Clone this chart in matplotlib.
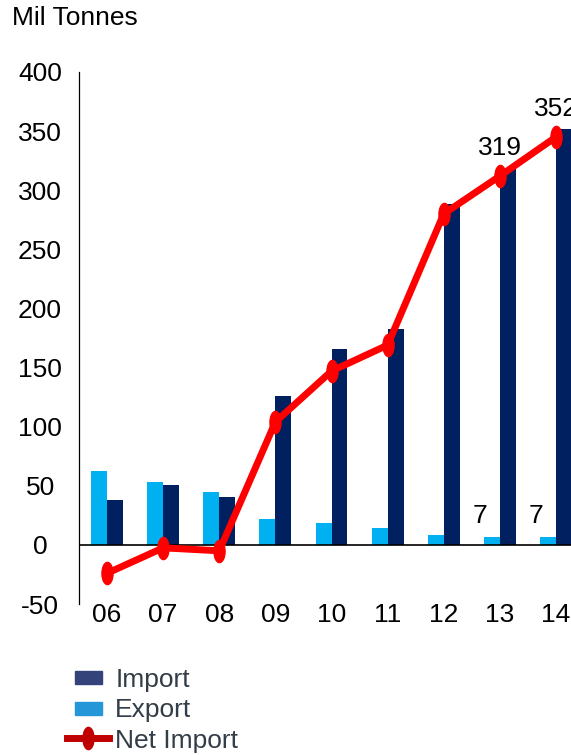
import matplotlib
matplotlib.use('Agg')
import matplotlib.pyplot as plt
from matplotlib.patches import Rectangle
from matplotlib.lines import Line2D
from matplotlib.path import Path
from matplotlib.transforms import Affine2D
from matplotlib.legend_handler import HandlerPatch
import numpy as np

plt.rcParams['font.family'] = ['Liberation Sans', 'DejaVu Sans']

# data (thousand tonnes)
years = ['06', '07', '08', '09', '10', '11', '12', '13', '14']
export = [62.8, 53.4, 45.1, 22, 18.6, 14.5, 8.7, 7, 7]
imports = [38, 50.7, 40.5, 126, 166, 183, 288, 319, 352]
net_import = [-24, -2.5, -5, 104, 147, 169, 280, 312, 345]

# which values carry a data label
export_labels = {7: '7', 8: '7'}
import_labels = {7: '319', 8: '352'}

C_IMPORT = '#002060'
C_EXPORT = '#00b0f0'
C_NET = '#ff0000'

W, H = 571, 755
fig = plt.figure(figsize=(W / 100, H / 100), dpi=100)
# axes: left spine at x=79px, y from 72px (400) to 604px (-50)
ax = fig.add_axes([79 / W, (H - 604) / H, 505 / W, 532 / H])

x = np.arange(len(years))
bw = 0.285
ax.bar(x - bw / 2, export, bw, color=C_EXPORT, zorder=2)
ax.bar(x + bw / 2, imports, bw, color=C_IMPORT, zorder=2)

ellipse = Path.unit_circle().transformed(Affine2D().scale(0.5, 1.0))
ax.plot(x, net_import, color=C_NET, lw=5, marker=ellipse, ms=16,
        mec=C_NET, mew=1, zorder=4, clip_on=False)

ax.axhline(0, color='black', lw=1.2, zorder=3)

for i, t in export_labels.items():
    ax.annotate(t, (i - 0.36, export[i]), xytext=(0, 15), textcoords='offset points',
                ha='center', va='center', fontsize=19, color='black')
for i, t in import_labels.items():
    ax.annotate(t, (i, imports[i]), xytext=(0, 14.5), textcoords='offset points',
                ha='center', va='center', fontsize=19, color='black',
                annotation_clip=False)

ax.set_xlim(-0.5, 8.5)
ax.set_ylim(-50, 400)
ax.set_yticks(range(-50, 401, 50))
ax.set_yticklabels([str(v) for v in range(-50, 401, 50)], ha='center')
ax.set_xticks(x)
ax.set_xticklabels(years)
ax.tick_params(axis='y', length=0, pad=28, labelsize=19)
ax.tick_params(axis='x', length=0, pad=-1, labelsize=19)

for s in ['top', 'right', 'bottom']:
    ax.spines[s].set_visible(False)
ax.spines['left'].set_linewidth(0.9)

fig.text(12 / W, 1 - 18 / H, 'Mil Tonnes', fontsize=19, ha='left', va='center')


def small_rect(legend, orig_handle, xdescent, ydescent, width, height, fontsize):
    rw, rh = 1.02 * fontsize, 0.5 * fontsize
    return Rectangle((-xdescent + (width - rw) / 2, -ydescent + (height - rh) / 2), rw, rh)


handles = [
    Rectangle((0, 0), 1, 1, color='#34447a'),
    Rectangle((0, 0), 1, 1, color='#2596d8'),
    Line2D([], [], color='#c00000', lw=5, marker=ellipse, ms=16, mec='#c00000'),
]
leg = fig.legend(handles, ['Import', 'Export', 'Net Import'],
                 loc='upper left', bbox_to_anchor=(67 / W, 1 - 668 / H),
                 frameon=False, fontsize=19, handlelength=1.6, handletextpad=0.23,
                 labelspacing=0.24, borderpad=0, borderaxespad=0,
                 handler_map={Rectangle: HandlerPatch(patch_func=small_rect)})
for t in leg.get_texts():
    t.set_color('#333d47')

fig.savefig('out.png', dpi=100)
